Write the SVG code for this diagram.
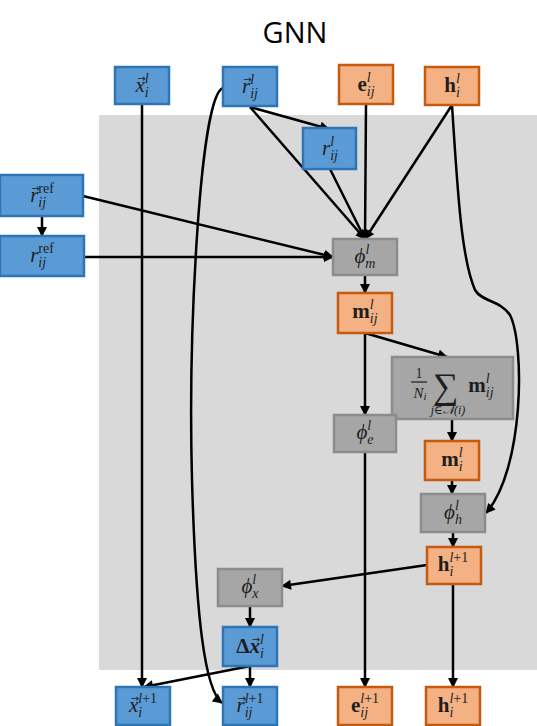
<svg xmlns="http://www.w3.org/2000/svg" width="537" height="726" viewBox="0 0 537 726">
<defs>
<style>
.blue{fill:#5b9bd5;stroke:#2e75b6;stroke-width:2.5}
.orange{fill:#f4b183;stroke:#c55a11;stroke-width:2.5}
.gray{fill:#a6a6a6;stroke:#8c8c8c;stroke-width:2.5}
.c{fill:none;stroke:#000;stroke-width:2.5;marker-end:url(#ah)}
.t{font-family:"Liberation Serif","DejaVu Serif",serif;fill:#1e1e1e;font-size:21px;text-anchor:middle}
.i{font-style:italic}
.b{font-weight:bold}
.s{font-size:14px;font-style:italic}
.u{font-style:normal}
.arr{font-family:"DejaVu Sans",sans-serif;font-size:10px;font-style:normal;font-weight:normal}
</style>
<marker id="ah" viewBox="0 0 10 10" refX="9" refY="5" markerWidth="11" markerHeight="10" markerUnits="userSpaceOnUse" orient="auto">
<path d="M0,0 L10,5 L0,10 z" fill="#000"/>
</marker>
</defs>
<rect width="537" height="726" fill="#fff"/>
<rect x="99" y="115" width="438" height="555" fill="#d9d9d9"/>
<text x="295" y="43" font-family="'Open Sans','Noto Sans',sans-serif" font-size="29" text-anchor="middle" fill="#000">GNN</text>

<g id="connectors">
<path class="c" d="M142,104 V687"/>
<path class="c" d="M223,88 C200,95 188,330 192,480 C196,620 205,690 222,703"/>
<path class="c" d="M250,107 L329,129"/>
<path class="c" d="M250,107 L365,239"/>
<path class="c" d="M330,169 L365,239"/>
<path class="c" d="M366,104 L365,239"/>
<path class="c" d="M452,105 L365,239"/>
<path class="c" d="M452,105 C458,200 462,260 475,290 C482,302 500,300 510,315 C525,345 524,470 486,513"/>
<path class="c" d="M83,196 L333,257"/>
<path class="c" d="M42,216 V236"/>
<path class="c" d="M84,257 H333"/>
<path class="c" d="M365,275 V293"/>
<path class="c" d="M365,333 V415"/>
<path class="c" d="M365,333 L447,357"/>
<path class="c" d="M452,419 V441"/>
<path class="c" d="M452,480 V494"/>
<path class="c" d="M453,532 V547"/>
<path class="c" d="M365,452 V687"/>
<path class="c" d="M427,565 L282,586"/>
<path class="c" d="M453,584 V687"/>
<path class="c" d="M250,606 V627"/>
<path class="c" d="M250,666 V687"/>
<path class="c" d="M250,666 L144,687"/>
</g>

<g id="x_l"><rect class="blue" x="115" y="67" width="54" height="37"/>
<text class="t" x="142" y="92"><tspan class="i">x</tspan><tspan class="s" dy="-9">l</tspan><tspan class="s" dx="-3.9" dy="14">i</tspan><tspan class="arr" x="141.5" y="82">→</tspan></text></g>
<g id="r_vec_l"><rect class="blue" x="223" y="67" width="54" height="39"/>
<text class="t" x="250" y="93"><tspan class="i">r</tspan><tspan class="s" dy="-9">l</tspan><tspan class="s" dx="-3.9" dy="14">ij</tspan><tspan class="arr" x="247.5" y="83">→</tspan></text></g>
<g id="e_l"><rect class="orange" x="339" y="65" width="54" height="39"/>
<text class="t" x="366" y="91"><tspan class="b">e</tspan><tspan class="s" dy="-9">l</tspan><tspan class="s" dx="-3.9" dy="14">ij</tspan></text></g>
<g id="h_l"><rect class="orange" x="425" y="67" width="54" height="38"/>
<text class="t" x="452" y="92"><tspan class="b">h</tspan><tspan class="s" dy="-9">l</tspan><tspan class="s" dx="-3.9" dy="14">i</tspan></text></g>
<g id="r_l"><rect class="blue" x="303" y="128" width="53" height="41"/>
<text class="t" x="330" y="155"><tspan class="i">r</tspan><tspan class="s" dy="-9">l</tspan><tspan class="s" dx="-3.9" dy="14">ij</tspan></text></g>
<g id="r_vec_ref"><rect class="blue" x="0" y="175" width="83" height="41"/>
<text class="t" x="42" y="202"><tspan class="i">r</tspan><tspan class="s" dy="5">ij</tspan><tspan class="s u" dx="-7.8" dy="-14">ref</tspan><tspan class="arr" x="35.5" y="192">→</tspan></text></g>
<g id="r_ref"><rect class="blue" x="0" y="236" width="84" height="40"/>
<text class="t" x="42" y="262"><tspan class="i">r</tspan><tspan class="s" dy="5">ij</tspan><tspan class="s u" dx="-7.8" dy="-14">ref</tspan></text></g>
<g id="phi_m"><rect class="gray" x="333" y="239" width="64" height="36"/>
<text class="t" x="365" y="263"><tspan class="i">ϕ</tspan><tspan class="s" dy="-9">l</tspan><tspan class="s" dx="-3.9" dy="14">m</tspan></text></g>
<g id="m_ij"><rect class="orange" x="338" y="293" width="54" height="40"/>
<text class="t" x="365" y="318"><tspan class="b">m</tspan><tspan class="s" dy="-9">l</tspan><tspan class="s" dx="-3.9" dy="14">ij</tspan></text></g>
<g id="sum"><rect class="gray" x="392" y="357" width="121" height="62"/>
<text class="t" x="419" y="378" style="font-size:14px">1</text>
<line x1="411" y1="382" x2="427" y2="382" stroke="#1e1e1e" stroke-width="1.2"/>
<text class="t" x="420" y="398" style="font-size:15px"><tspan class="i">N</tspan><tspan class="s" style="font-size:11px" dy="2">i</tspan></text>
<text class="t" x="445.5" y="398" style="font-size:36px">∑</text>
<text class="t i" x="448" y="414" style="font-size:12px">j∈𝒩(i)</text>
<text class="t" x="481" y="392"><tspan class="b">m</tspan><tspan class="s" dy="-9">l</tspan><tspan class="s" dx="-3.9" dy="14">ij</tspan></text></g>
<g id="phi_e"><rect class="gray" x="334" y="415" width="62" height="37"/>
<text class="t" x="365" y="439"><tspan class="i">ϕ</tspan><tspan class="s" dy="-9">l</tspan><tspan class="s" dx="-3.9" dy="14">e</tspan></text></g>
<g id="m_i"><rect class="orange" x="425" y="441" width="54" height="39"/>
<text class="t" x="452" y="466"><tspan class="b">m</tspan><tspan class="s" dy="-9">l</tspan><tspan class="s" dx="-3.9" dy="14">i</tspan></text></g>
<g id="phi_h"><rect class="gray" x="421" y="494" width="64" height="38"/>
<text class="t" x="453" y="519"><tspan class="i">ϕ</tspan><tspan class="s" dy="-9">l</tspan><tspan class="s" dx="-3.9" dy="14">h</tspan></text></g>
<g id="h_next"><rect class="orange" x="427" y="547" width="54" height="37"/>
<text class="t" x="453" y="571"><tspan class="b">h</tspan><tspan class="s" dy="5">i</tspan><tspan class="s" dx="-3.9" dy="-14">l<tspan class="u">+1</tspan></tspan></text></g>
<g id="phi_x"><rect class="gray" x="218" y="569" width="64" height="37"/>
<text class="t" x="250" y="593"><tspan class="i">ϕ</tspan><tspan class="s" dy="-9">l</tspan><tspan class="s" dx="-3.9" dy="14">x</tspan></text></g>
<g id="dx"><rect class="blue" x="223" y="627" width="54" height="39"/>
<text class="t" x="250" y="653"><tspan class="b">Δ</tspan><tspan class="i b">x</tspan><tspan class="s" dy="-9">l</tspan><tspan class="s" dx="-3.9" dy="14">i</tspan><tspan class="arr" x="256" y="643">→</tspan></text></g>
<g id="x_next"><rect class="blue" x="116" y="687" width="54" height="38"/>
<text class="t" x="143" y="712"><tspan class="i">x</tspan><tspan class="s" dy="5">i</tspan><tspan class="s" dx="-3.9" dy="-14">l<tspan class="u">+1</tspan></tspan><tspan class="arr" x="135" y="702">→</tspan></text></g>
<g id="r_next"><rect class="blue" x="223" y="687" width="54" height="38"/>
<text class="t" x="250" y="712"><tspan class="i">r</tspan><tspan class="s" dy="5">ij</tspan><tspan class="s" dx="-7.8" dy="-14">l<tspan class="u">+1</tspan></tspan><tspan class="arr" x="242" y="702">→</tspan></text></g>
<g id="e_next"><rect class="orange" x="338" y="687" width="54" height="38"/>
<text class="t" x="365" y="712"><tspan class="b">e</tspan><tspan class="s" dy="5">ij</tspan><tspan class="s" dx="-7.8" dy="-14">l<tspan class="u">+1</tspan></tspan></text></g>
<g id="h_out"><rect class="orange" x="426" y="687" width="54" height="38"/>
<text class="t" x="453" y="712"><tspan class="b">h</tspan><tspan class="s" dy="5">i</tspan><tspan class="s" dx="-3.9" dy="-14">l<tspan class="u">+1</tspan></tspan></text></g>
</svg>
